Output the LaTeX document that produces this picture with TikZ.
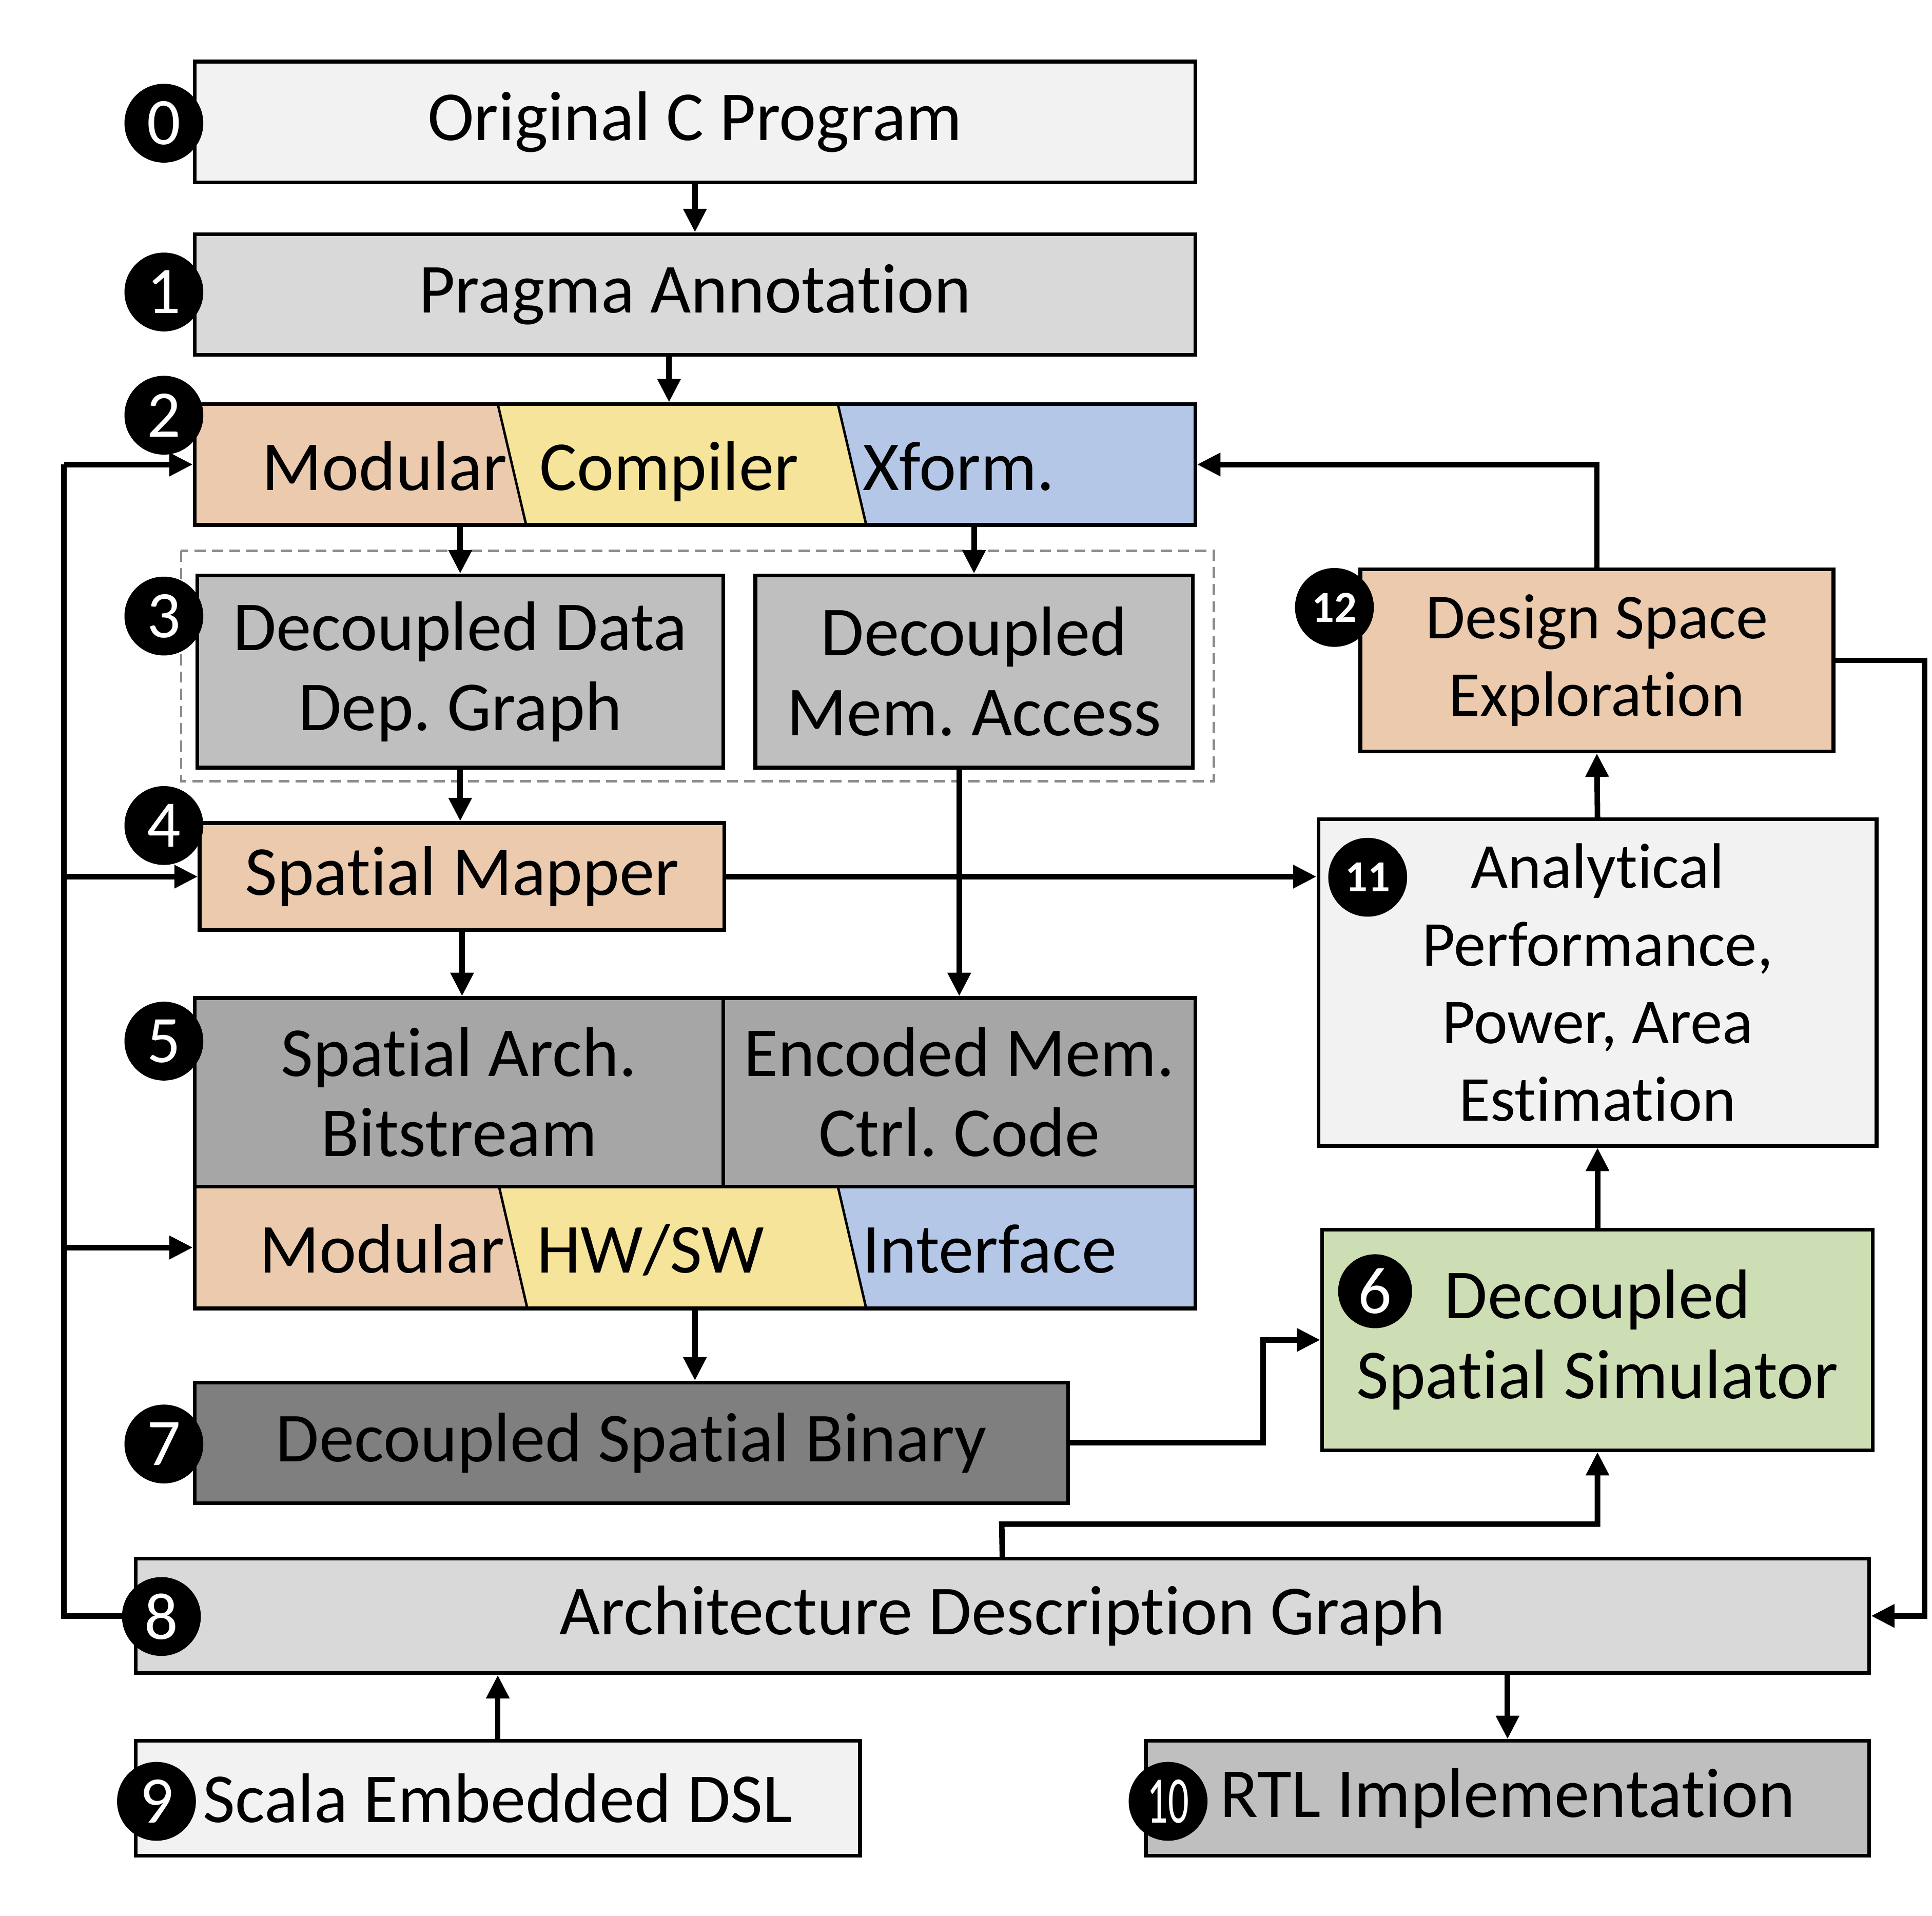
\documentclass[tikz,border=0pt]{standalone}
\usepackage{fontspec}
\setmainfont{Carlito}[Ligatures=NoCommon]
\usetikzlibrary{arrows.meta,calc}
\definecolor{cOr}{HTML}{EBCAAD}
\definecolor{cYe}{HTML}{F6E49A}
\definecolor{cBl}{HTML}{B4C7E7}
\definecolor{cGr}{HTML}{CDDEB4}
\definecolor{gA}{HTML}{F2F2F2}
\definecolor{gB}{HTML}{D9D9D9}
\definecolor{gC}{HTML}{BFBFBF}
\definecolor{gD}{HTML}{A6A6A6}
\definecolor{gE}{HTML}{7F7F7F}
\frenchspacing
\begin{document}
\begin{tikzpicture}[x=1pt,y=-1pt,
  box/.style={draw=black,line width=3pt,inner sep=0pt,align=center,font=\fontsize{57}{65}\selectfont},
  smalltext/.style={font=\fontsize{52}{63}\selectfont},
  lbl/.style={inner sep=0pt,anchor=base,font=\fontsize{57}{65}\selectfont},
  arr/.style={line width=4.5pt,-{Triangle[length=19pt,width=18pt]}},
  wire/.style={line width=4.5pt},
  num/.style={circle,fill=black,text=white,minimum size=64pt,inner sep=0pt,font=\fontsize{54}{54}\selectfont},
  numb/.style={num,font=\fontsize{36}{36}\selectfont\bfseries},
]
\useasboundingbox (0,0) rectangle (1568,1555);

% dashed group
\draw[draw=black!45,line width=2pt,dash pattern=on 9pt off 5pt] (147,447) rectangle (985,634);

% box 2 fills
\fill[cOr] (158,328) -- (404,328) -- (427,426) -- (158,426) -- cycle;
\fill[cYe] (404,328) -- (680,328) -- (703,426) -- (427,426) -- cycle;
\fill[cBl] (680,328) -- (970,328) -- (970,426) -- (703,426) -- cycle;
% box 5c fills
\fill[cOr] (158,963) -- (405,963) -- (428,1062) -- (158,1062) -- cycle;
\fill[cYe] (405,963) -- (680,963) -- (703,1062) -- (428,1062) -- cycle;
\fill[cBl] (680,963) -- (970,963) -- (970,1062) -- (703,1062) -- cycle;

\node[box,fill=gA,minimum width=812pt,minimum height=98pt] (b0) at (564,99) {Original C Program};
\node[box,fill=gB,minimum width=812pt,minimum height=98pt] (b1) at (564,239) {Pragma Annotation};
\node[box,minimum width=812pt,minimum height=98pt] (b2) at (564,377) {};
\draw[line width=2pt] (404,328) -- (427,426) (680,328) -- (703,426);
\node[lbl] (t2a) at (312,398) {Modular};
\node[lbl] (t2b) at (543,398) {Compiler};
\node[lbl] (t2c) at (778,398) {Xform.};

\node[box,fill=gC,minimum width=427pt,minimum height=156pt] (b3a) at (373.5,545) {Decoupled Data\\Dep. Graph};
\node[box,fill=gC,minimum width=355pt,minimum height=156pt] (b3b) at (790.5,545) {Decoupled\\Mem. Access};
\node[box,fill=cOr,minimum width=426pt,minimum height=87pt] (b4) at (375,711.5) {Spatial Mapper};
\node[box,fill=gD,minimum width=429pt,minimum height=153pt] (b5a) at (372.5,886.5) {Spatial Arch.\\Bitstream};
\node[box,fill=gD,minimum width=383pt,minimum height=153pt] (b5b) at (778.5,886.5) {Encoded Mem.\\Ctrl. Code};
\node[box,minimum width=812pt,minimum height=99pt] (b5c) at (564,1012.5) {};
\draw[line width=2pt] (405,963) -- (428,1062) (680,963) -- (703,1062);
\node[lbl] (t5a) at (310,1033) {Modular};
\node[lbl] (t5b) at (528,1033) {HW/SW};
\node[lbl] (t5c) at (803,1033) {Interface};

\node[box,fill=gE,minimum width=709pt,minimum height=98pt] (b7) at (512.5,1171) {Decoupled Spatial Binary};
\node[box,fill=gB,minimum width=1407pt,minimum height=93pt] (b8) at (813.5,1311.5) {Architecture Description Graph};
\node[box,fill=gA,minimum width=588pt,minimum height=93pt] (b9) at (404,1459.5) {Scala Embedded DSL};
\node[box,fill=gC,minimum width=587pt,minimum height=93pt] (b10) at (1223.5,1459.5) {RTL Implementation};
\node[box,smalltext,fill=cOr,minimum width=384pt,minimum height=148pt] (b12) at (1296,536) {Design Space\\Exploration};
\node[box,smalltext,fill=gA,minimum width=453pt,minimum height=265pt] (b11) at (1296.5,797.5) {Analytical\\Performance,\\Power, Area\\Estimation};
\node[box,fill=cGr,minimum width=447pt,minimum height=179pt] (b6) at (1296.5,1087.5) {Decoupled\\Spatial Simulator};

% helper coordinates
\coordinate (railL) at (52,0);
\coordinate (railR) at (1562,0);
\coordinate (j76) at (1025,1171);
\coordinate (j86) at (813,1237);

% connectors
\draw[arr] (b0.south) -- (b1.north);
\draw[arr] (b1.south -| t2b) -- (b2.north -| t2b);
\draw[arr] (b3a.north |- b2.south) -- (b3a.north);
\draw[arr] (b3b.north |- b2.south) -- (b3b.north);
\draw[arr] (b3a.south) -- (b3a.south |- b4.north);
\draw[arr] (b5b.north |- b3b.south) -- (b5b.north);
\draw[arr] (b4.south) -- (b4.south |- b5a.north);
\draw[arr] (b4.east) -- (b4.east -| b11.west);
\draw[arr] (b5c.south) -- (b5c.south |- b7.north);
\draw[arr] (b7.east) -- (j76) |- (b6.west);
\draw[arr] (b8.north) -- (j86) -| (b6.south);
\draw[arr] (b6.north) -- (b11.south);
\draw[arr] (b11.north) -- (b12.south);
\draw[arr] (b12.north) |- (b2.east);
\draw[arr] (b12.east) -- (b12.east -| railR) |- (b8.east);
\draw[arr] (b9.north) -- (b9.north |- b8.south);
\draw[arr] (b8.south -| b10.north) -- (b10.north);
\draw[wire] (b8.west) -- (b8.west -| railL) -- (b2.west -| railL);
\draw[arr] (b2.west -| railL) -- (b2.west);
\draw[arr] (b4.west -| railL) -- (b4.west);
\draw[arr] (b5c.west -| railL) -- (b5c.west);

% number badges
\node[num] (n0) at (133,100) {0};
\node[num] (n1) at (133,237) {1};
\node[num] (n2) at (133,337) {2};
\node[num] (n3) at (133,500) {3};
\node[num] (n4) at (133,670) {4};
\node[num] (n5) at (133,845) {5};
\node[num] (n7) at (133,1172) {7};
\node[num] (n8) at (131,1312) {8};
\node[num] (n9) at (127,1462) {9};
\node[num] (n10) at (948,1462) {\scalebox{0.62}[1]{10}};
\node[numb] (n11) at (1110,712) {11};
\node[numb] (n12) at (1083,493) {12};
\node[num,minimum size=60pt] (n6) at (1116,1048) {6};
\end{tikzpicture}
\end{document}
